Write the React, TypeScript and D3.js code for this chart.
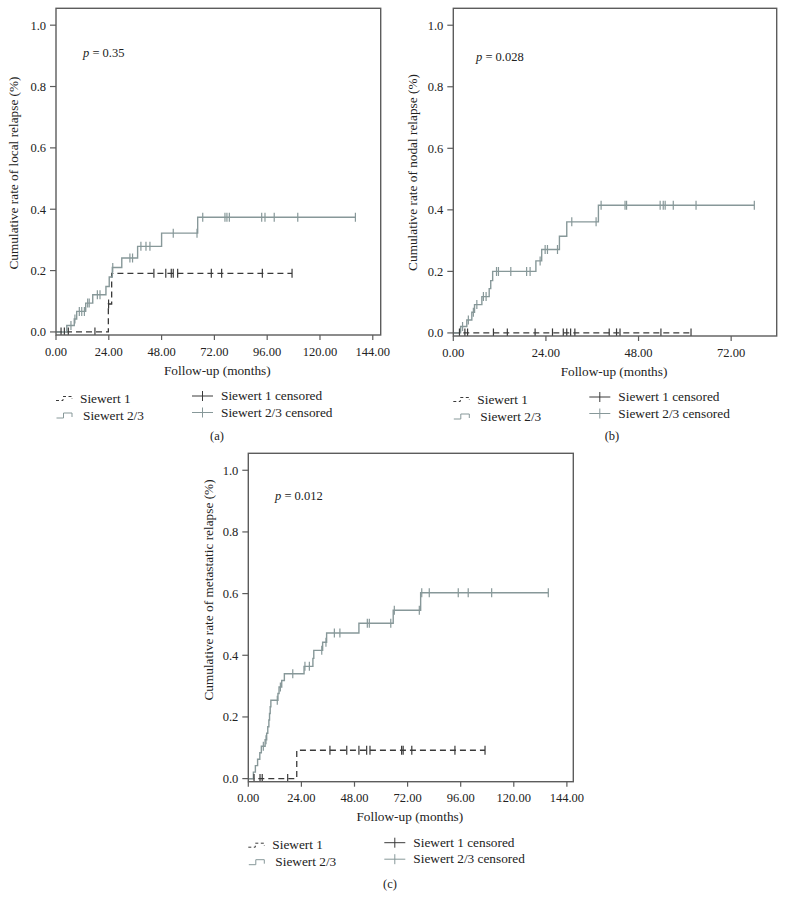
import React from 'react';
import * as d3 from 'd3';

type Pt = [number, number];

// ---------- DATA ----------
// x ticks (months) and y ticks (cumulative rate)
const yTicks = [0, 0.2, 0.4, 0.6, 0.8, 1.0];
const xTicksLong = [0, 24, 48, 72, 96, 120, 144];
const xTicksShort = [0, 24, 48, 72];

// Panel (a): local relapse
const aS1Steps: Pt[] = [[23.8, 0.091], [25.3, 0.191]];
const aS1End = 107.3;
const aS1Censor = [2.3, 3.8, 5.6, 17.7, 23.9, 44.5, 49.9, 52.4, 53.3, 55.3, 70.6, 75.3, 93.8, 107.3];
const aS23Steps: Pt[] = [
  [4.9, 0.021], [8.3, 0.042], [9.4, 0.067], [13.5, 0.094], [16.7, 0.121], [22.7, 0.148],
  [24.2, 0.179], [25.6, 0.21], [29.9, 0.241], [37.1, 0.279], [48.0, 0.322], [64.4, 0.374],
];
const aS23End = 136.1;
const aS23Censor = [6.8, 8.6, 10.6, 11.7, 12.9, 14.4, 15.1, 18.8, 20.0, 25.8, 33.6, 34.8, 38.6, 40.9, 42.7,
  53.3, 64.1, 66.7, 76.8, 77.7, 78.8, 93.5, 95.0, 99.2, 109.9, 136.1];

// Panel (b): nodal relapse
const bS1Steps: Pt[] = [];
const bS1End = 61.6;
const bS1Censor = [1.6, 3.0, 3.7, 10.4, 14.0, 21.2, 25.7, 28.5, 29.4, 30.4, 31.5, 40.4, 42.3, 43.2, 53.8, 61.6];
const bS23Steps: Pt[] = [
  [1.9, 0.021], [3.5, 0.042], [4.8, 0.067], [5.5, 0.092], [7.4, 0.118], [9.3, 0.144], [9.7, 0.17],
  [10.2, 0.2], [21.4, 0.234], [22.9, 0.271], [27.5, 0.314], [29.4, 0.361], [37.6, 0.415],
];
const bS23End = 78.0;
const bS23Censor = [2.4, 3.9, 5.2, 6.1, 7.8, 8.5, 11.2, 11.7, 14.9, 19.0, 19.9, 22.5, 23.8, 24.4, 27.0,
  30.7, 37.0, 38.3, 44.5, 44.9, 53.6, 54.4, 54.9, 57.0, 62.9, 78.0];

// Panel (c): metastatic relapse
const cS1Steps: Pt[] = [[21.9, 0.092]];
const cS1End = 107.0;
const cS1Censor = [2.6, 5.3, 6.3, 17.8, 36.9, 44.5, 50.0, 53.5, 55.0, 69.3, 70.0, 73.9, 93.4, 107.0];
const cS23Steps: Pt[] = [
  [2.3, 0.021], [3.2, 0.042], [4.2, 0.063], [5.2, 0.084], [5.9, 0.105], [7.6, 0.126], [8.3, 0.147],
  [8.8, 0.168], [9.3, 0.19], [9.6, 0.211], [9.9, 0.233], [10.2, 0.254], [13.4, 0.276], [13.9, 0.297],
  [15.1, 0.318], [16.3, 0.34], [25.2, 0.364], [29.2, 0.39], [29.6, 0.416], [33.6, 0.442], [35.4, 0.472],
  [50.0, 0.504], [65.5, 0.546], [77.9, 0.603],
];
const cS23End = 135.6;
const cS23Censor = [6.8, 8.0, 13.1, 14.5, 20.1, 25.6, 27.6, 33.2, 35.1, 38.9, 41.4, 53.8, 54.7, 64.4, 66.0,
  77.3, 78.4, 81.8, 94.9, 99.4, 110.0, 135.6];

const legendLabels = ['Siewert 1', 'Siewert 2/3', 'Siewert 1 censored', 'Siewert 2/3 censored'];

// ---------- STYLE ----------
const FONT = "'Liberation Serif', 'DejaVu Serif', serif";
const C1 = '#3a3a3a';
const C23 = '#879899';
const FRAME = '#5c5c5c';
const TXT = '#222';

function valueAt(steps: Pt[], t: number) {
  let v = 0;
  for (const s of steps) if (s[0] <= t) v = s[1];
  return v;
}

interface Series { steps: Pt[]; end: number; censor: number[]; }

interface PanelCfg {
  left: number; right: number; top: number; bottom: number;
  xMax: number; xTicks: number[];
  yLabel: string; yLabelX: number; yLabelY: number;
  pText: string; pX: number; pY: number;
  tag: string; tagX: number; tagY: number;
  s1: Series; s23: Series;
}

function Panel({ cfg }: { cfg: PanelCfg }) {
  const x = d3.scaleLinear().domain([0, cfg.xMax]).range([cfg.left, cfg.right]);
  const y = d3.scaleLinear().domain([-0.01, 1.055]).range([cfg.bottom, cfg.top]);
  const line = d3.line<Pt>().x(d => x(d[0])).y(d => y(d[1])).curve(d3.curveStepAfter);
  const pts = (s: Series): Pt[] => {
    const last = s.steps.length ? s.steps[s.steps.length - 1][1] : 0;
    return [[0, 0], ...s.steps, [s.end, last]];
  };
  const fy = d3.format('.1f');
  const fx = d3.format('.2f');
  const L = cfg.left;
  const B = cfg.bottom;
  const clipId = 'clip' + cfg.tag.replace(/[()]/g, '');
  return (
    <g fontFamily={FONT} fill={TXT}>
      <defs>
        <clipPath id={clipId}>
          <rect x={cfg.left} y={cfg.top} width={cfg.right - cfg.left} height={cfg.bottom - cfg.top} />
        </clipPath>
      </defs>
      <g clipPath={`url(#${clipId})`}>
        <path d={line(pts(cfg.s1)) || ''} fill="none" stroke={C1} strokeWidth={1.3} strokeDasharray="6,4" />
        <path d={line(pts(cfg.s23)) || ''} fill="none" stroke={C23} strokeWidth={1.4} />
        {cfg.s1.censor.map((t, i) => (
          <line key={'c1' + i} x1={x(t)} x2={x(t)} y1={y(valueAt(cfg.s1.steps, t)) - 4.5}
            y2={y(valueAt(cfg.s1.steps, t)) + 4.5} stroke={C1} strokeWidth={1.2} />
        ))}
        {cfg.s23.censor.map((t, i) => (
          <line key={'c23' + i} x1={x(t)} x2={x(t)} y1={y(valueAt(cfg.s23.steps, t)) - 4.5}
            y2={y(valueAt(cfg.s23.steps, t)) + 4.5} stroke={C23} strokeWidth={1.2} />
        ))}
      </g>
      <rect x={cfg.left} y={cfg.top} width={cfg.right - cfg.left} height={cfg.bottom - cfg.top}
        fill="none" stroke={FRAME} strokeWidth={1.4} />
      {yTicks.map(v => (
        <g key={'y' + v}>
          <line x1={L - 6} x2={L} y1={y(v)} y2={y(v)} stroke={FRAME} strokeWidth={1.2} />
          <text x={L - 10} y={y(v) + 4.5} textAnchor="end" fontSize={12.5}>{fy(v)}</text>
        </g>
      ))}
      {cfg.xTicks.map(v => (
        <g key={'x' + v}>
          <line x1={x(v)} x2={x(v)} y1={B} y2={B + 5} stroke={FRAME} strokeWidth={1.2} />
          <text x={x(v)} y={B + 20.5} textAnchor="middle" fontSize={12.5}>{fx(v)}</text>
        </g>
      ))}
      <text x={(cfg.left + cfg.right) / 2 - 1} y={B + 39.5} textAnchor="middle" fontSize={13.3}>Follow-up (months)</text>
      <text transform={`translate(${cfg.yLabelX},${cfg.yLabelY}) rotate(-90)`} textAnchor="middle" fontSize={13.3}>{cfg.yLabel}</text>
      <text x={cfg.pX} y={cfg.pY} fontSize={12.5}>
        <tspan fontStyle="italic">p</tspan> = {cfg.pText}
      </text>
      {/* legend */}
      <path d={`M${L},${B + 65.5} H${L + 7} V${B + 61.5} H${L + 16} V${B + 64}`} fill="none" stroke={C1}
        strokeWidth={1} strokeDasharray="3,2.5" />
      <text x={L + 24} y={B + 67.5} fontSize={13.3}>{legendLabels[0]}</text>
      <path d={`M${L + 0.5},${B + 83} H${L + 7.5} V${B + 78} H${L + 16} V${B + 82}`} fill="none" stroke={C23}
        strokeWidth={1} />
      <text x={L + 27} y={B + 84.5} fontSize={13.3}>{legendLabels[1]}</text>
      <line x1={L + 136} x2={L + 157} y1={B + 61} y2={B + 61} stroke={C1} strokeWidth={1} />
      <line x1={L + 146.5} x2={L + 146.5} y1={B + 56} y2={B + 66} stroke={C1} strokeWidth={1} />
      <text x={L + 165} y={B + 65} fontSize={13.3}>{legendLabels[2]}</text>
      <line x1={L + 136} x2={L + 157} y1={B + 77.5} y2={B + 77.5} stroke={C23} strokeWidth={1} />
      <line x1={L + 146.5} x2={L + 146.5} y1={B + 72.5} y2={B + 82.5} stroke={C23} strokeWidth={1} />
      <text x={L + 165} y={B + 81.5} fontSize={13.3}>{legendLabels[3]}</text>
      <text x={cfg.tagX} y={cfg.tagY} textAnchor="middle" fontSize={12.5}>{cfg.tag}</text>
    </g>
  );
}

const panels: PanelCfg[] = [
  {
    left: 56, right: 380.7, top: 8.3, bottom: 335, xMax: 147.6, xTicks: xTicksLong,
    yLabel: 'Cumulative rate of local relapse (%)', yLabelX: 18, yLabelY: 173,
    pText: '0.35', pX: 83, pY: 56.5, tag: '(a)', tagX: 217, tagY: 440,
    s1: { steps: aS1Steps, end: aS1End, censor: aS1Censor },
    s23: { steps: aS23Steps, end: aS23End, censor: aS23Censor },
  },
  {
    left: 453.3, right: 776.7, top: 8.3, bottom: 336, xMax: 83.8, xTicks: xTicksShort,
    yLabel: 'Cumulative rate of nodal relapse (%)', yLabelX: 417, yLabelY: 172.5,
    pText: '0.028', pX: 476, pY: 60.5, tag: '(b)', tagX: 612, tagY: 440,
    s1: { steps: bS1Steps, end: bS1End, censor: bS1Censor },
    s23: { steps: bS23Steps, end: bS23End, censor: bS23Censor },
  },
  {
    left: 248.3, right: 573.3, top: 453.3, bottom: 781.7, xMax: 146.9, xTicks: xTicksLong,
    yLabel: 'Cumulative rate of metastatic relapse (%)', yLabelX: 212.5, yLabelY: 590,
    pText: '0.012', pX: 275, pY: 499.5, tag: '(c)', tagX: 390, tagY: 887.5,
    s1: { steps: cS1Steps, end: cS1End, censor: cS1Censor },
    s23: { steps: cS23Steps, end: cS23End, censor: cS23Censor },
  },
];

export default function App() {
  return (
    <div style={{ position: 'absolute', left: 0, top: 0 }}>
      <svg width={785} height={897} style={{ display: 'block', background: '#fff' }}>
        {panels.map((p, i) => <Panel key={i} cfg={p} />)}
      </svg>
    </div>
  );
}
